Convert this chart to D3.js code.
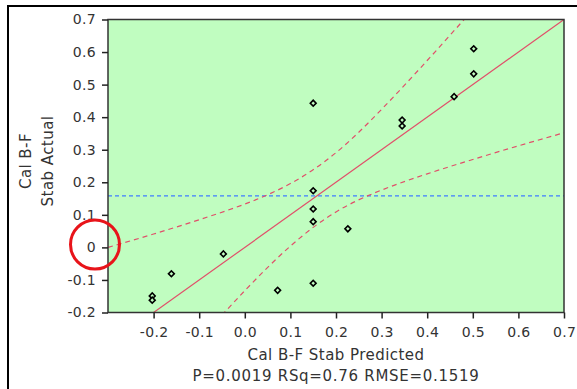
<!DOCTYPE html>
<html>
<head>
<meta charset="utf-8">
<script src="https://cdn.jsdelivr.net/npm/d3@7"></script>
<style>
  body { margin: 0; background: #fff; }
  text { font-family: "DejaVu Sans", Verdana, sans-serif; }
</style>
</head>
<body>
<div id="chart"></div>
<script>
// actual vs predicted
var predicted = [0.150, 0.150, 0.150, 0.150, 0.226, -0.047, -0.161, -0.203, -0.203, 0.072, 0.150, 0.502, 0.502, 0.459, 0.345, 0.345];
var actual    = [0.443, 0.174, 0.118, 0.079, 0.057, -0.020, -0.081, -0.149, -0.162, -0.132, -0.110, 0.610, 0.533, 0.463, 0.391, 0.373];

var meanActual = 0.158;

// confidence curves
var curveX     = [-0.3, -0.2, -0.1, 0.0, 0.1, 0.2, 0.3, 0.4, 0.5, 0.6, 0.7];
var upperCurve = [0.000, 0.041, 0.085, 0.133, 0.196, 0.291, 0.424, 0.574, 0.730, 0.888, 1.048];
var lowerCurve = [-0.600, -0.441, -0.285, -0.133, 0.004, 0.109, 0.176, 0.226, 0.270, 0.312, 0.352];

var xTicks = [-0.2, -0.1, 0.0, 0.1, 0.2, 0.3, 0.4, 0.5, 0.6, 0.7];
var yTicks = [-0.2, -0.1, 0.0, 0.1, 0.2, 0.3, 0.4, 0.5, 0.6, 0.7];

var width = 577, height = 389;
var pl = 108, pt = 19.5, pr = 564, pb = 312.5;

var svg = d3.select("#chart").append("svg")
    .attr("width", width)
    .attr("height", height);

// outer frame
svg.append("rect")
    .attr("x", 8).attr("y", 6)
    .attr("width", 700).attr("height", 500)
    .attr("fill", "none")
    .attr("stroke", "#000")
    .attr("stroke-width", 2);

var x = d3.scaleLinear().domain([-0.3, 0.7]).range([pl, pr]);
var y = d3.scaleLinear().domain([-0.2, 0.7]).range([pb, pt]);

svg.append("clipPath").attr("id", "clip")
    .append("rect")
    .attr("x", pl).attr("y", pt)
    .attr("width", pr - pl).attr("height", pb - pt);

svg.append("rect")
    .attr("x", pl).attr("y", pt)
    .attr("width", pr - pl).attr("height", pb - pt)
    .attr("fill", "#c0fdc0");

var plot = svg.append("g").attr("clip-path", "url(#clip)");

// mean line
plot.append("line")
    .attr("x1", pl).attr("x2", pr)
    .attr("y1", y(meanActual)).attr("y2", y(meanActual))
    .attr("stroke", "#3f7cff")
    .attr("stroke-width", 1.2)
    .attr("stroke-dasharray", "4,3");

var line = d3.line()
    .x(function(d) { return x(d[0]); })
    .y(function(d) { return y(d[1]); })
    .curve(d3.curveNatural);

plot.append("path")
    .datum(d3.zip(curveX, upperCurve))
    .attr("d", line)
    .attr("fill", "none")
    .attr("stroke", "#e0506a")
    .attr("stroke-width", 1.2)
    .attr("stroke-dasharray", "5,4");

plot.append("path")
    .datum(d3.zip(curveX, lowerCurve))
    .attr("d", line)
    .attr("fill", "none")
    .attr("stroke", "#e0506a")
    .attr("stroke-width", 1.2)
    .attr("stroke-dasharray", "5,4");

// fit line (actual = predicted)
plot.append("line")
    .attr("x1", x(-0.3)).attr("y1", y(-0.3))
    .attr("x2", x(0.7)).attr("y2", y(0.7))
    .attr("stroke", "#e0506a")
    .attr("stroke-width", 1.2);

// points: square turned 45deg
var diamond = d3.symbol().type(d3.symbolSquare).size(17);
plot.selectAll("path.pt")
    .data(d3.zip(predicted, actual))
    .enter().append("path")
    .attr("class", "pt")
    .attr("transform", function(d) { return "translate(" + x(d[0]) + "," + y(d[1]) + ") rotate(45)"; })
    .attr("d", diamond)
    .attr("fill", "#c0fdc0")
    .attr("stroke", "#000")
    .attr("stroke-width", 1.6);

// plot border
svg.append("rect")
    .attr("x", pl).attr("y", pt)
    .attr("width", pr - pl).attr("height", pb - pt)
    .attr("fill", "none")
    .attr("stroke", "#333")
    .attr("stroke-width", 1.5);

// axes
var fmt = function(d) { return d3.format(".1f")(d).replace("\u2212", "-"); };

var xAxis = d3.axisBottom(x)
    .tickValues(xTicks)
    .tickSize(6)
    .tickFormat(fmt);

var yAxis = d3.axisLeft(y)
    .tickValues(yTicks)
    .tickSize(6)
    .tickFormat(function(d) { return Math.abs(d) < 1e-9 ? "0" : fmt(d); });

var gx = svg.append("g")
    .attr("transform", "translate(0," + pb + ")")
    .call(xAxis);
var gy = svg.append("g")
    .attr("transform", "translate(" + pl + ",0)")
    .call(yAxis);

[gx, gy].forEach(function(g) {
    g.select(".domain").remove();
    g.selectAll(".tick line").attr("stroke", "#222").attr("stroke-width", 1.5);
    g.selectAll(".tick text")
        .attr("fill", "#333")
        .style("font-size", "14px")
        .style("letter-spacing", "0.3px")
        .style("font-family", "DejaVu Sans");
});
gx.selectAll(".tick text").attr("y", 15);
gy.selectAll(".tick text").attr("x", -12);

// titles
svg.append("text")
    .attr("x", (pl + pr) / 2)
    .attr("y", 360)
    .attr("text-anchor", "middle")
    .attr("fill", "#333")
    .style("font-size", "15px")
    .style("letter-spacing", "0.45px")
    .text("Cal B-F Stab Predicted");

svg.append("text")
    .attr("x", (pl + pr) / 2)
    .attr("y", 381)
    .attr("text-anchor", "middle")
    .attr("fill", "#333")
    .style("font-size", "15px")
    .style("letter-spacing", "0.7px")
    .text("P=0.0019 RSq=0.76 RMSE=0.1519");

var yt = svg.append("text")
    .attr("transform", "translate(0,161) rotate(-90)")
    .attr("text-anchor", "middle")
    .attr("fill", "#333")
    .style("font-size", "15px")
    .style("letter-spacing", "0.45px");
yt.append("tspan").attr("x", 0).attr("y", 31).text("Cal B-F");
yt.append("tspan").attr("x", 0).attr("y", 53).text("Stab Actual");

// red annotation circle
svg.append("circle")
    .attr("cx", 95).attr("cy", 244.5)
    .attr("r", 24.5)
    .attr("fill", "none")
    .attr("stroke", "#e8141a")
    .attr("stroke-width", 3);
</script>
</body>
</html>
